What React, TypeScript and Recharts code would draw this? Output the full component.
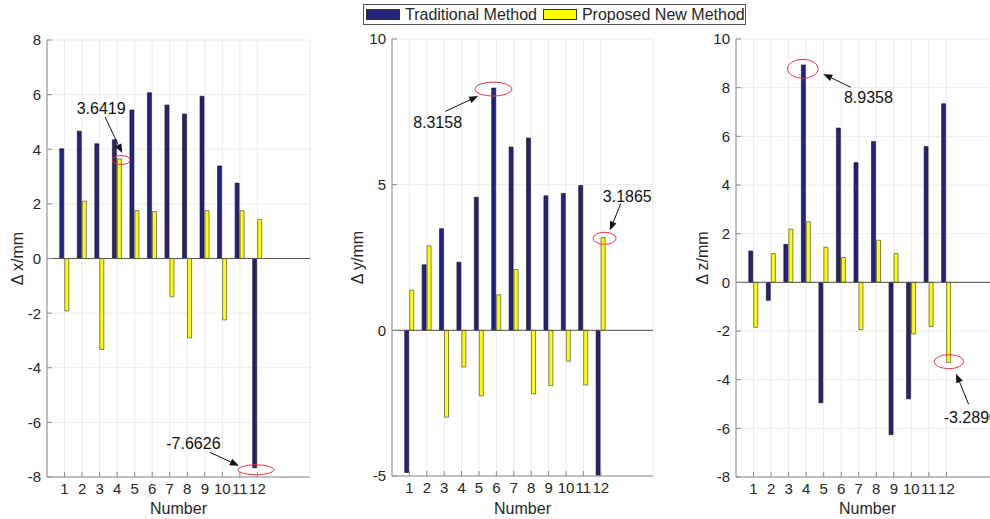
import React from "react";
import { Bar, BarChart, CartesianGrid, ReferenceDot, ReferenceLine, XAxis, YAxis } from "recharts";

// point numbers on the x axis
const numbers = [1, 2, 3, 4, 5, 6, 7, 8, 9, 10, 11, 12];
const xTicks = numbers;

// Δx (mm)
const dxTraditional = [4.02, 4.66, 4.2, 4.35, 5.44, 6.07, 5.62, 5.29, 5.94, 3.39, 2.76, -7.6626];
const dxProposed = [-1.92, 2.1, -3.33, 3.6419, 1.75, 1.72, -1.4, -2.91, 1.75, -2.25, 1.75, 1.43];
// Δy (mm)
const dyTraditional = [-4.88, 2.25, 3.49, 2.34, 4.57, 8.3158, 6.29, 6.6, 4.62, 4.7, 4.97, -4.97];
const dyProposed = [1.38, 2.9, -2.98, -1.26, -2.25, 1.22, 2.09, -2.18, -1.9, -1.06, -1.88, 3.1865];
// Δz (mm)
const dzTraditional = [1.29, -0.74, 1.56, 8.9358, -4.95, 6.34, 4.92, 5.79, -6.26, -4.79, 5.58, 7.34];
const dzProposed = [-1.85, 1.18, 2.19, 2.49, 1.44, 1.02, -1.94, 1.73, 1.18, -2.12, -1.82, -3.289];

const dxTicks = [-8, -6, -4, -2, 0, 2, 4, 6, 8];
const dyTicks = [-5, 0, 5, 10];
const dzTicks = [-8, -6, -4, -2, 0, 2, 4, 6, 8, 10];

const BLUE = "#25227c";
const YELLOW = "#ffff00";
const AXIS = "#8a8a8a";
const TEXT = "#262626";
const FONT = "'Liberation Sans', Arial, sans-serif";

type Row = { n: number; trad: number; prop: number };

function buildRows(trad: number[], prop: number[]): Row[] {
  return numbers.map((n, i) => ({ n, trad: trad[i], prop: prop[i] }));
}

type Note = {
  series: "trad" | "prop";
  index: number;
  ellipse: [number, number, number, number]; // dx, dy, rx, ry
  text: [number, number];
  anchor: "start" | "middle";
  arrow: [number, number, number, number];
};

function Arrow({ x1, y1, x2, y2 }: { x1: number; y1: number; x2: number; y2: number }) {
  const a = Math.atan2(y2 - y1, x2 - x1);
  const len = 9;
  const w = 3.5;
  const bx = x2 - len * Math.cos(a);
  const by = y2 - len * Math.sin(a);
  const px = -Math.sin(a) * w;
  const py = Math.cos(a) * w;
  return (
    <g>
      <line x1={x1} y1={y1} x2={bx} y2={by} stroke="#111" strokeWidth={1} />
      <polygon points={`${x2},${y2} ${bx + px},${by + py} ${bx - px},${by - py}`} fill="#111" />
    </g>
  );
}

function noteShape(note: Note, value: number) {
  return (props: any) => {
    const { cx, cy } = props;
    if (cx == null || cy == null) return <g />;
    const px = cx + (note.series === "trad" ? -2.5 : 2.5);
    const [edx, edy, rx, ry] = note.ellipse;
    const [ax1, ay1, ax2, ay2] = note.arrow;
    return (
      <g>
        <ellipse cx={px + edx} cy={cy + edy} rx={rx} ry={ry} fill="none" stroke="#f0304a" strokeWidth={1} />
        <Arrow x1={px + ax1} y1={cy + ay1} x2={px + ax2} y2={cy + ay2} />
        <text
          x={px + note.text[0]}
          y={cy + note.text[1]}
          dy="0.36em"
          textAnchor={note.anchor}
          fontSize={16}
          fontFamily={FONT}
          fill="#111"
        >
          {value.toFixed(4)}
        </text>
      </g>
    );
  };
}

function LeftTick({ x, y, payload }: any) {
  return (
    <g>
      <line x1={x} y1={y} x2={x + 5} y2={y} stroke={AXIS} />
      <text x={x - 6} y={y} dy="0.36em" textAnchor="end" fontSize={15} fontFamily={FONT} fill={TEXT}>
        {payload.value}
      </text>
    </g>
  );
}

function BottomTick({ x, y, payload }: any) {
  return (
    <g>
      <line x1={x} y1={y} x2={x} y2={y - 5} stroke={AXIS} />
      <text x={x} y={y + 6} dy="0.71em" textAnchor="middle" fontSize={15} fontFamily={FONT} fill={TEXT}>
        {payload.value}
      </text>
    </g>
  );
}

function TopTick({ x, y }: any) {
  return <line x1={x} y1={y} x2={x} y2={y + 5} stroke={AXIS} />;
}

function RightTick({ x, y }: any) {
  return <line x1={x} y1={y} x2={x - 5} y2={y} stroke={AXIS} />;
}

type PanelProps = {
  left: number;
  width: number;
  margin: { top: number; right: number; bottom: number; left: number };
  axisWidth: number;
  rows: Row[];
  domain: [number, number];
  ticks: number[];
  yLabel: string;
  labelX: number;
  notes: Note[];
};

function Panel({ left, width, margin, axisWidth, rows, domain, ticks, yLabel, labelX, notes }: PanelProps) {
  const plotLeft = margin.left + axisWidth;
  const plotRight = width - margin.right;
  const midX = (plotLeft + plotRight) / 2;
  const midY = (margin.top + (519 - margin.bottom - 30)) / 2;
  return (
    <div style={{ position: "absolute", left, top: 0 }}>
      <BarChart width={width} height={519} data={rows} margin={margin} barGap={1}>
        <CartesianGrid stroke="#ececec" strokeWidth={1} />
        <XAxis
          type="number"
          dataKey="n"
          domain={[0, 15]}
          ticks={xTicks}
          interval={0}
          height={30}
          tickSize={0}
          tickMargin={0}
          tickLine={false}
          stroke={AXIS}
          tick={<BottomTick />}
          label={() => (
            <text x={midX} y={508} dy="0.36em" textAnchor="middle" fontSize={16} fontFamily={FONT} fill={TEXT}>
              Number
            </text>
          )}
        />
        <XAxis
          xAxisId="top"
          orientation="top"
          type="number"
          dataKey="n"
          domain={[0, 15]}
          ticks={xTicks}
          interval={0}
          height={0}
          tickSize={0}
          tickMargin={0}
          tickLine={false}
          stroke={AXIS}
          tick={<TopTick />}
        />
        <YAxis
          domain={domain}
          ticks={ticks}
          interval={0}
          width={axisWidth}
          tickSize={0}
          tickMargin={0}
          tickLine={false}
          stroke={AXIS}
          allowDataOverflow
          tick={<LeftTick />}
          label={() => (
            <text
              x={labelX}
              y={midY}
              dy="0.36em"
              textAnchor="middle"
              transform={`rotate(-90 ${labelX} ${midY})`}
              fontSize={16}
              fontFamily={FONT}
              fill={TEXT}
            >
              {yLabel}
            </text>
          )}
        />
        <YAxis
          yAxisId="right"
          orientation="right"
          domain={domain}
          ticks={ticks}
          interval={0}
          width={0}
          tickSize={0}
          tickMargin={0}
          tickLine={false}
          stroke={AXIS}
          tick={<RightTick />}
        />
        <Bar dataKey="trad" fill={BLUE} stroke="#111" strokeWidth={0.6} barSize={4} isAnimationActive={false} />
        <Bar dataKey="prop" fill={YELLOW} stroke="#333" strokeWidth={0.6} barSize={4} isAnimationActive={false} />
        <ReferenceLine y={0} stroke="#555" strokeWidth={1} />
        {notes.map((note, i) => {
          const row = rows[note.index];
          const value = row[note.series];
          return <ReferenceDot key={i} x={row.n} y={value} r={0} shape={noteShape(note, value)} />;
        })}
      </BarChart>
    </div>
  );
}

function LegendBox() {
  const swatch = (color: string) => ({
    width: 34,
    height: 11,
    background: color,
    border: "1px solid #333",
    boxSizing: "border-box" as const,
  });
  return (
    <div
      style={{
        position: "absolute",
        left: 363,
        top: 4,
        width: 383,
        height: 21,
        border: "1px solid #555",
        background: "#fff",
        display: "flex",
        alignItems: "center",
        fontFamily: FONT,
        fontSize: 16,
        color: TEXT,
        boxSizing: "border-box",
        paddingLeft: 2,
      }}
    >
      <div style={swatch(BLUE)} />
      <span style={{ marginLeft: 5 }}>Traditional Method</span>
      <div style={{ ...swatch(YELLOW), marginLeft: 6 }} />
      <span style={{ marginLeft: 5 }}>Proposed New Method</span>
    </div>
  );
}

const dxNotes: Note[] = [
  { series: "prop", index: 3, ellipse: [1.5, 1, 9, 4.5], text: [-18.5, -51], anchor: "middle", arrow: [-14.5, -42, 2.5, -6] },
  { series: "trad", index: 11, ellipse: [1, 2, 18, 5], text: [-61.5, -24.5], anchor: "middle", arrow: [-45, -15.5, -16, -2] },
];
const dyNotes: Note[] = [
  { series: "trad", index: 5, ellipse: [-0.5, 1, 18.5, 7], text: [-56.3, 33.8], anchor: "middle", arrow: [-48.5, 23.3, -15.8, 8] },
  { series: "prop", index: 11, ellipse: [1.3, 0.8, 11.5, 6], text: [24, -41.7], anchor: "middle", arrow: [17.5, -34, 6.5, -7] },
];
const dzNotes: Note[] = [
  { series: "trad", index: 3, ellipse: [-0.8, 3.9, 15.5, 9.5], text: [64.8, 32.3], anchor: "middle", arrow: [47, 22.4, 19.7, 9.1] },
  { series: "prop", index: 11, ellipse: [0, -0.7, 14.8, 7], text: [-5.2, 54.8], anchor: "start", arrow: [19.8, 42, 7.2, 11.3] },
];

export default function App() {
  return (
    <div
      style={{
        position: "absolute",
        left: 0,
        top: 0,
        width: 990,
        height: 519,
        overflow: "hidden",
        background: "#fff",
      }}
    >
      <Panel
        left={0}
        width={330}
        margin={{ top: 40, right: 20, bottom: 12, left: 0 }}
        axisWidth={47}
        rows={buildRows(dxTraditional, dxProposed)}
        domain={[-8, 8]}
        ticks={dxTicks}
        yLabel="Δ x/mm"
        labelX={17}
        notes={dxNotes}
      />
      <Panel
        left={330}
        width={330}
        margin={{ top: 39, right: 7, bottom: 13, left: 0 }}
        axisWidth={62}
        rows={buildRows(dyTraditional, dyProposed)}
        domain={[-5, 10]}
        ticks={dyTicks}
        yLabel="Δ y/mm"
        labelX={27}
        notes={dyNotes}
      />
      <Panel
        left={660}
        width={345}
        margin={{ top: 39, right: 6, bottom: 12, left: 0 }}
        axisWidth={76}
        rows={buildRows(dzTraditional, dzProposed)}
        domain={[-8, 10]}
        ticks={dzTicks}
        yLabel="Δ z/mm"
        labelX={42}
        notes={dzNotes}
      />
      <LegendBox />
    </div>
  );
}
